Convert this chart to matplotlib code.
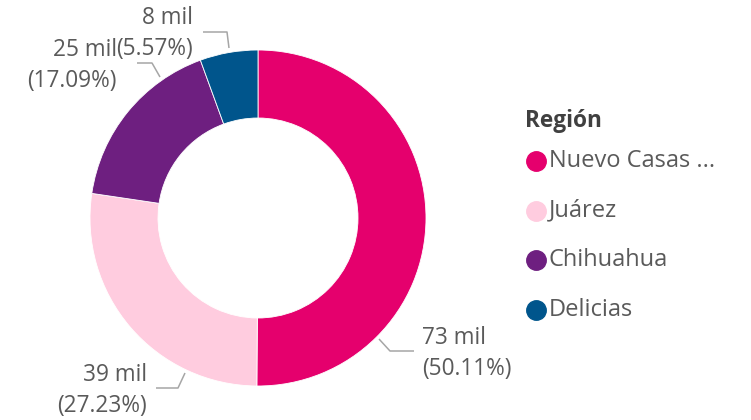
import matplotlib
matplotlib.use("Agg")
import matplotlib.pyplot as plt

regions = ["Nuevo Casas ...", "Juárez", "Chihuahua", "Delicias"]
shares = [50.11, 27.23, 17.09, 5.57]          # percent of total
value_labels = ["73 mil", "39 mil", "25 mil", "8 mil"]
colors = ["#E5006D", "#FFCCDF", "#6E1F80", "#00558C"]

W, H = 751, 420
CX, CY, R, RING = 258, 218, 168, 68
FONT = "Open Sans"
TXT = "#5A5A5A"
FS = 16.3

fig = plt.figure(figsize=(W / 100, H / 100), dpi=100)
ax = fig.add_axes([0, 0, 1, 1])

# y axis inverted (pixel space) -> counterclock=True draws clockwise on screen
ax.pie(shares, colors=colors, startangle=-90, counterclock=True,
       center=(CX, CY), radius=R,
       wedgeprops=dict(width=RING, edgecolor="white", linewidth=0.6))
ax.set_xlim(0, W)
ax.set_ylim(H, 0)
ax.set_aspect("equal")
ax.axis("off")

# leader lines (pixel coords) and label anchors, per slice
leaders = [
    [(379, 339), (390, 351), (414, 351)],
    [(185, 373), (178, 388), (156, 388)],
    [(160, 77), (152, 63), (137, 63)],
    [(229, 48), (227, 32), (203, 32)],
]
anchors = [(422, 338, "left"), (147, 375, "right"), (117, 50, "right"), (193, 18, "right")]

for i, pts in enumerate(leaders):
    xs, ys = zip(*pts)
    ax.plot(xs, ys, color="#A6A6A6", lw=1.1, solid_capstyle="butt")
    x, y, ha = anchors[i]
    ax.text(x, y, value_labels[i], ha=ha, va="center", fontsize=FS, color=TXT, family=FONT)
    ax.text(x, y + 31, f"({shares[i]:.2f}%)", ha=ha, va="center", fontsize=FS,
            color=TXT, family=FONT)

# legend
ax.text(525, 121, "Región", ha="left", va="center", fontsize=FS, fontweight="bold",
        color="#404040", family=FONT)
for i, (name, c) in enumerate(zip(regions, colors)):
    y = 161 + 49.5 * i
    ax.plot(536, y, "o", ms=14, color=c, mec=c)
    ax.text(549, y, name, ha="left", va="center", fontsize=FS + 0.7, color=TXT, family=FONT)

fig.savefig("out.png", dpi=100)
